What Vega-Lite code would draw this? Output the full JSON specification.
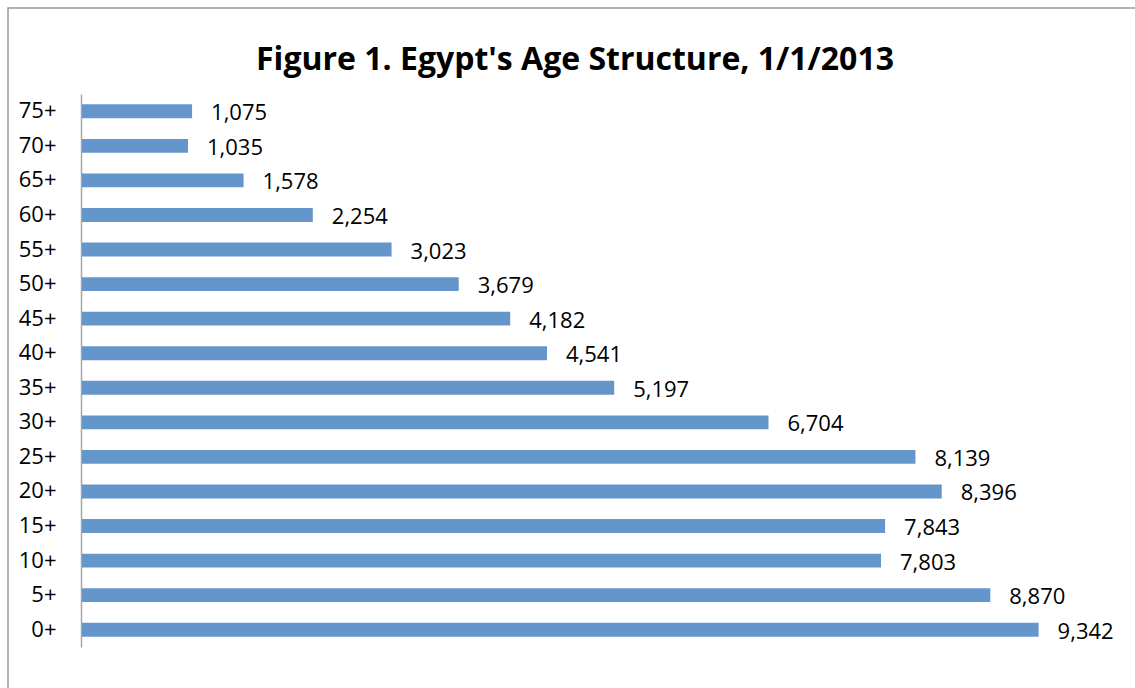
{
  "$schema": "https://vega.github.io/schema/vega-lite/v6.json",
  "width": 1130,
  "height": 683,
  "autosize": {"type": "none"},
  "padding": {"left": 8, "top": 8, "right": -3, "bottom": -3},
  "background": "white",
  "title": {
    "text": "Figure 1. Egypt's Age Structure, 1/1/2013",
    "font": "Open Sans",
    "fontSize": 32,
    "fontWeight": "bold",
    "color": "black",
    "anchor": "middle",
    "baseline": "alphabetic",
    "offset": -94,
    "dx": 2
  },
  "config": {"view": {"stroke": "#9a9a9a", "strokeWidth": 1.5}},
  "data": {
    "values": [
      {"age": "75+", "value": 1075},
      {"age": "70+", "value": 1035},
      {"age": "65+", "value": 1578},
      {"age": "60+", "value": 2254},
      {"age": "55+", "value": 3023},
      {"age": "50+", "value": 3679},
      {"age": "45+", "value": 4182},
      {"age": "40+", "value": 4541},
      {"age": "35+", "value": 5197},
      {"age": "30+", "value": 6704},
      {"age": "25+", "value": 8139},
      {"age": "20+", "value": 8396},
      {"age": "15+", "value": 7843},
      {"age": "10+", "value": 7803},
      {"age": "5+", "value": 8870},
      {"age": "0+", "value": 9342}
    ]
  },
  "encoding": {
    "y": {
      "field": "age",
      "type": "nominal",
      "sort": null,
      "scale": {"range": [86, 639], "paddingInner": 0.6, "paddingOuter": 0.3},
      "axis": {
        "title": null,
        "orient": "left",
        "offset": -73,
        "ticks": false,
        "grid": false,
        "domainColor": "#a6a6a6",
        "domainWidth": 1.5,
        "labelFont": "Open Sans",
        "labelFontSize": 22,
        "labelColor": "black",
        "labelPadding": 25,
        "labelAlign": "right",
        "labelBaseline": "middle"
      }
    },
    "x": {
      "field": "value",
      "type": "quantitative",
      "scale": {"domain": [0, 10000], "range": [74, 1098]},
      "axis": null
    }
  },
  "layer": [
    {"mark": {"type": "bar", "color": "#6496CC"}},
    {
      "mark": {
        "type": "text",
        "align": "left",
        "baseline": "middle",
        "dx": 19,
        "dy": 2,
        "font": "Open Sans",
        "fontSize": 22,
        "color": "black"
      },
      "encoding": {"text": {"field": "value", "type": "quantitative", "format": ","}}
    }
  ]
}
